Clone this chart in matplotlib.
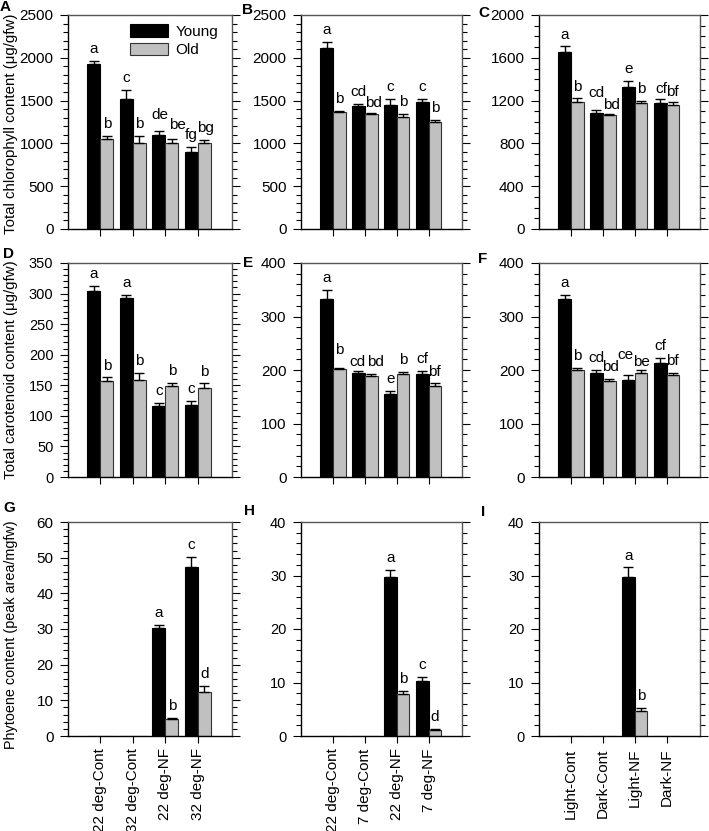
import matplotlib
matplotlib.use('Agg')
import matplotlib.pyplot as plt
import numpy as np
from matplotlib.ticker import MultipleLocator

plt.rcParams['font.family'] = ['Liberation Sans', 'DejaVu Sans']

# ---------------- data ----------------
series_names = ['Young', 'Old']
groups_hot = ['22 deg-Cont', '32 deg-Cont', '22 deg-NF', '32 deg-NF']
groups_cold = ['22 deg-Cont', '7 deg-Cont', '22 deg-NF', '7 deg-NF']
groups_light = ['Light-Cont', 'Dark-Cont', 'Light-NF', 'Dark-NF']

ylabel_chl = 'Total chlorophyll content (\u03bcg/gfw)'
ylabel_car = 'Total carotenoid content (\u03bcg/gfw)'
ylabel_phy = 'Phytoene content (peak area/mgfw)'

A_young = [1930, 1520, 1100, 905]
A_young_err = [35, 105, 40, 55]
A_old = [1050, 1005, 1005, 1000]
A_old_err = [40, 78, 45, 42]
A_young_lab = ['a', 'c', 'de', 'fg']
A_old_lab = ['b', 'b', 'be', 'bg']

B_young = [2120, 1440, 1452, 1484]
B_young_err = [62, 20, 68, 32]
B_old = [1362, 1346, 1308, 1246]
B_old_err = [14, 5, 35, 25]
B_young_lab = ['a', 'cd', 'c', 'c']
B_old_lab = ['b', 'bd', 'b', 'b']

C_young = [1655, 1082, 1324, 1178]
C_young_err = [52, 27, 58, 40]
C_old = [1190, 1062, 1180, 1155]
C_old_err = [30, 15, 14, 28]
C_young_lab = ['a', 'cd', 'e', 'cf']
C_old_lab = ['b', 'bd', 'b', 'bf']

D_young = [305, 293, 116, 118]
D_young_err = [7, 5, 5, 7]
D_old = [157, 158, 149, 146]
D_old_err = [6, 12, 5, 7]
D_young_lab = ['a', 'a', 'c', 'c']
D_old_lab = ['b', 'b', 'b', 'b']

E_young = [332, 195, 155, 192]
E_young_err = [18, 4, 6, 6]
E_old = [202, 189, 192, 171]
E_old_err = [2, 3, 5, 4]
E_young_lab = ['a', 'cd', 'e', 'cf']
E_old_lab = ['b', 'bd', 'b', 'bf']

F_young = [332, 195, 181, 214]
F_young_err = [8, 5, 10, 9]
F_old = [200, 179, 194, 191]
F_old_err = [4, 5, 6, 4]
F_young_lab = ['a', 'cd', 'ce', 'cf']
F_old_lab = ['b', 'bd', 'be', 'bf']

G_young = [0, 0, 30.3, 47.5]
G_young_err = [0, 0, 0.9, 2.7]
G_old = [0, 0, 4.8, 12.3]
G_old_err = [0, 0, 0.2, 1.7]
G_young_lab = ['', '', 'a', 'c']
G_old_lab = ['', '', 'b', 'd']

H_young = [0, 0, 29.7, 10.2]
H_young_err = [0, 0, 1.4, 0.9]
H_old = [0, 0, 7.9, 1.2]
H_old_err = [0, 0, 0.5, 0.1]
H_young_lab = ['', '', 'a', 'c']
H_old_lab = ['', '', 'b', 'd']

I_young = [0, 0, 29.8, 0]
I_young_err = [0, 0, 1.7, 0]
I_old = [0, 0, 4.7, 0]
I_old_err = [0, 0, 0.5, 0]
I_young_lab = ['', '', 'a', '']
I_old_lab = ['', '', 'b', '']

# ---------------- layout ----------------
W, H = 709, 831
fig = plt.figure(figsize=(W / 100, H / 100), dpi=100)

cols = [(68, 232), (301, 462), (539, 700)]
rows = [(15, 229), (263, 477), (522, 736)]

def ax_at(c, r):
    x0, x1 = cols[c]
    y0, y1 = rows[r]
    return fig.add_axes([x0 / W, 1 - y1 / H, (x1 - x0) / W, (y1 - y0) / H])

panels = [
    ('A', 0, 0, A_young, A_young_err, A_old, A_old_err, A_young_lab, A_old_lab, groups_hot, 2500, 500, 100),
    ('B', 1, 0, B_young, B_young_err, B_old, B_old_err, B_young_lab, B_old_lab, groups_cold, 2500, 500, 100),
    ('C', 2, 0, C_young, C_young_err, C_old, C_old_err, C_young_lab, C_old_lab, groups_light, 2000, 400, 100),
    ('D', 0, 1, D_young, D_young_err, D_old, D_old_err, D_young_lab, D_old_lab, groups_hot, 350, 50, 10),
    ('E', 1, 1, E_young, E_young_err, E_old, E_old_err, E_young_lab, E_old_lab, groups_cold, 400, 100, 20),
    ('F', 2, 1, F_young, F_young_err, F_old, F_old_err, F_young_lab, F_old_lab, groups_light, 400, 100, 20),
    ('G', 0, 2, G_young, G_young_err, G_old, G_old_err, G_young_lab, G_old_lab, groups_hot, 60, 10, 2),
    ('H', 1, 2, H_young, H_young_err, H_old, H_old_err, H_young_lab, H_old_lab, groups_cold, 40, 10, 2),
    ('I', 2, 2, I_young, I_young_err, I_old, I_old_err, I_young_lab, I_old_lab, groups_light, 40, 10, 2),
]

tick_size = {'A': 11, 'B': 11, 'C': 11, 'D': 10.5, 'E': 11, 'F': 11, 'G': 11, 'H': 10.5, 'I': 10.5}

letter_pos = {'A': (0, 0), 'B': (242, 3), 'C': (478, 6), 'D': (3, 247),
              'E': (243, 256), 'F': (478, 252), 'G': (3, 501), 'H': (244, 504), 'I': (481, 505)}

# fine placement tweaks of significance letters (dx, dy in points)
label_shift = {('E', 0, 1): (-1, -2), ('E', 1, 0): (0, 4), ('E', 1, 1): (3, 0),
               ('F', 0, 2): (-2, 6), ('F', 1, 2): (0, -2.5), ('F', 1, 1): (1, 0),
               ('A', 0, 2): (1, 3), ('A', 1, 2): (4, 2), ('A', 1, 3): (1, 0),
               ('C', 0, 1): (0, 4), ('C', 1, 1): (2, -2), ('C', 0, 3): (1, -1.5),
               ('C', 1, 3): (0, -1), ('B', 1, 1): (2, -1)}

ylabels = {0: ylabel_chl, 1: ylabel_car, 2: ylabel_phy}
ylabel_size = {0: 10.8, 1: 10.8, 2: 10.4}
ylabel_ypos = {0: 0.49, 1: 0.5, 2: 0.475}

bw = 0.4
for (name, c, r, yv, ye, ov, oe, yl, ol, groups, ymax, major, minor) in panels:
    ax = ax_at(c, r)
    x = np.arange(1, len(groups) + 1)
    xy = x - bw / 2
    xo = x + bw / 2
    b1 = ax.bar(xy, yv, width=bw, color='black', edgecolor='black', linewidth=0.8,
                label=series_names[0], zorder=2)
    b2 = ax.bar(xo, ov, width=bw, color='#c0c0c0', edgecolor='#333333', linewidth=0.8,
                label=series_names[1], zorder=2)
    for si, (xs, vals, errs, labs) in enumerate(((xy, yv, ye, yl), (xo, ov, oe, ol))):
        vals = np.asarray(vals, float)
        errs = np.asarray(errs, float)
        m = vals > 0
        ax.errorbar(xs[m], vals[m], yerr=[np.zeros(m.sum()), errs[m]], fmt='none',
                    ecolor='black', elinewidth=1.0, capsize=3.5, capthick=1.0, zorder=3)
        for gi, (xi, v, e, lab) in enumerate(zip(xs, vals, errs, labs)):
            if lab:
                dx, dy = label_shift.get((name, si, gi), (0, 0))
                ax.annotate(lab, (xi, v + e), xytext=(dx, 8.5 + dy), textcoords='offset points',
                            ha='center', va='center', fontsize=11)
    ax.set_xlim(0, 5.05)
    ax.set_ylim(0, ymax)
    ax.yaxis.set_major_locator(MultipleLocator(major))
    ax.yaxis.set_minor_locator(MultipleLocator(minor))
    ax.set_xticks(x)
    if r == 2:
        ax.set_xticklabels(groups, rotation=90, fontsize=11)
    else:
        ax.set_xticklabels([])
    ax.tick_params(axis='y', which='major', direction='out', length=6, width=0.8,
                   labelsize=tick_size[name], right=True, pad=4.5)
    ax.tick_params(axis='y', which='minor', direction='out', length=3.5, width=0.8, right=True)
    ax.tick_params(axis='x', which='major', direction='out', length=5, width=0.8, pad=4)
    for s in ('left', 'bottom'):
        ax.spines[s].set_color('black')
        ax.spines[s].set_linewidth(1.0)
    for s in ('top', 'right'):
        ax.spines[s].set_color('#555555')
        ax.spines[s].set_linewidth(1.0)
    if c == 0:
        ax.set_ylabel(ylabels[r], fontsize=ylabel_size[r])
        x0, x1 = cols[c]
        ax.yaxis.set_label_coords((18 - x0) / (x1 - x0), ylabel_ypos[r])
    if name == 'A':
        ax.legend(handles=[b1, b2], loc='upper left', bbox_to_anchor=(0.34, 0.985),
                  frameon=False, fontsize=11, handlelength=2.5, handleheight=0.85,
                  handletextpad=0.5, labelspacing=0.25, borderaxespad=0)
    lx, ly = letter_pos[name]
    fig.text(lx / W, 1 - ly / H, name, fontsize=11, fontweight='bold', ha='left', va='top')

fig.savefig('out.png', dpi=100)
